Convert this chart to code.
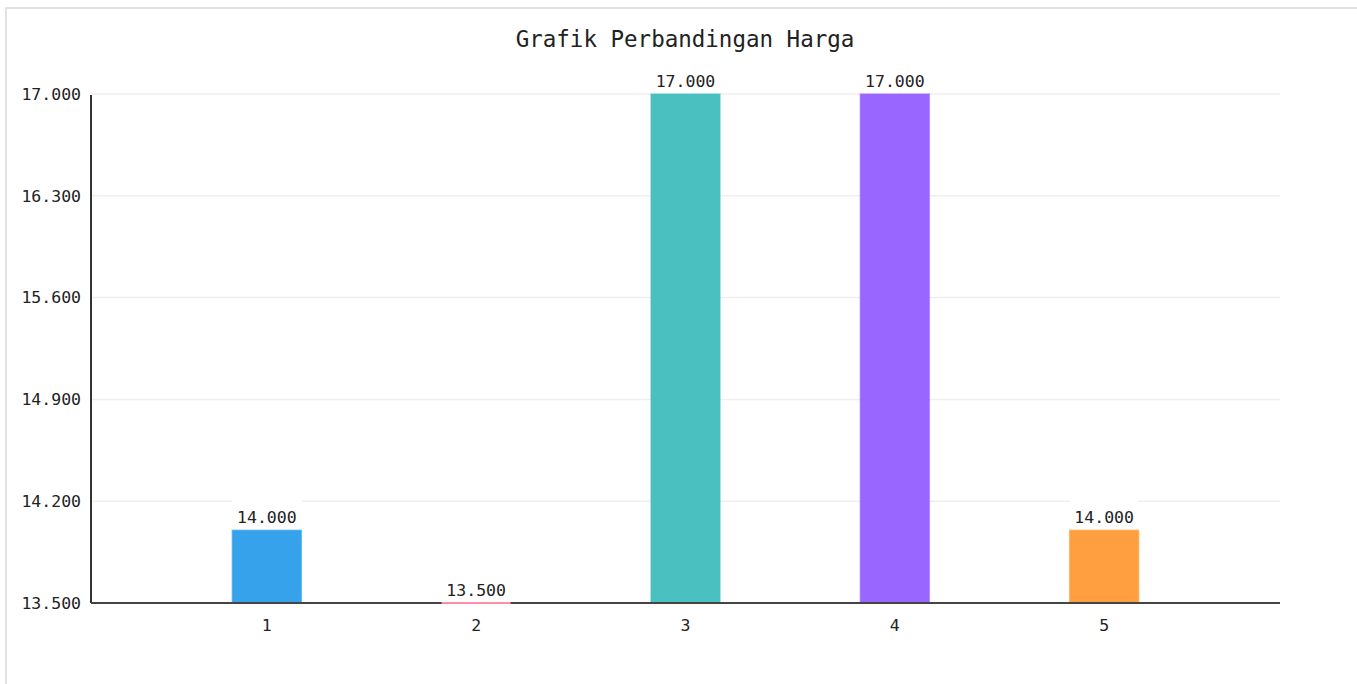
<!DOCTYPE html>
<html>
<head>
<meta charset="utf-8">
<script src="https://cdn.jsdelivr.net/npm/d3@7"></script>
<style>
  body { margin: 0; background: #fff; }
  .frame {
    position: absolute;
    left: 5px;
    top: 7px;
    width: 1400px;
    height: 720px;
    border: 2px solid #e2e2e2;
  }
  svg { position: absolute; left: 0; top: 0; }
  text { font-family: 'DejaVu Sans Mono', 'Liberation Mono', monospace; fill: #222; }
</style>
</head>
<body>
<div class="frame"></div>
<div id="chart"></div>
<script>
// data
var categories = ['1', '2', '3', '4', '5']
var prices = [14000, 13500, 17000, 17000, 14000]
var barColors = ['#36A2EB', '#FF6384', '#4BC0C0', '#9966FF', '#FF9F40']
var yTicks = [13500, 14200, 14900, 15600, 16300, 17000]

var width = 1357
var height = 684
var margin = { top: 94, left: 91, right: 77, bottom: 81 }

var svg = d3
  .select('#chart')
  .append('svg')
  .attr('width', width)
  .attr('height', height)

// Indonesian style numbers: 14.000
var fmt = function(v) {
  return d3.format(',.0f')(v).replace(/,/g, '.')
}

var xPositionScale = d3
  .scalePoint()
  .domain(categories)
  .range([margin.left, width - margin.right])
  .padding(0.84)

var yPositionScale = d3
  .scaleLinear()
  .domain([13500, 17000])
  .range([height - margin.bottom, margin.top])

var barWidth = 69

// title
svg
  .append('text')
  .text('Grafik Perbandingan Harga')
  .attr('x', 685)
  .attr('y', 47)
  .attr('text-anchor', 'middle')
  .attr('font-size', '22.5px')

// gridlines
svg
  .append('g')
  .selectAll('line')
  .data(yTicks)
  .enter()
  .append('line')
  .attr('x1', margin.left)
  .attr('x2', width - margin.right)
  .attr('y1', d => yPositionScale(d))
  .attr('y2', d => yPositionScale(d))
  .attr('stroke', '#efefef')
  .attr('stroke-width', 1.5)

// y tick labels
svg
  .append('g')
  .selectAll('text')
  .data(yTicks)
  .enter()
  .append('text')
  .text(d => fmt(d))
  .attr('x', 81)
  .attr('y', d => yPositionScale(d))
  .attr('dy', '0.35em')
  .attr('text-anchor', 'end')
  .attr('font-size', '16.5px')

var bars = svg
  .append('g')
  .selectAll('g')
  .data(prices)
  .enter()
  .append('g')

// white box behind the value label (it cuts the gridlines)
bars
  .append('rect')
  .attr('x', (d, i) => xPositionScale(categories[i]) - barWidth / 2)
  .attr('y', d => yPositionScale(d) - 32)
  .attr('width', barWidth)
  .attr('height', 32)
  .attr('fill', '#fff')

bars
  .append('rect')
  .attr('x', (d, i) => xPositionScale(categories[i]) - barWidth / 2)
  .attr('y', d => yPositionScale(d))
  .attr('width', barWidth)
  .attr('height', d => yPositionScale(13500) - yPositionScale(d))
  .attr('fill', (d, i) => barColors[i])
  .attr('stroke', (d, i) => barColors[i])
  .attr('stroke-opacity', 0.6)
  .attr('stroke-width', 1.5)

bars
  .append('text')
  .text(d => fmt(d))
  .attr('x', (d, i) => xPositionScale(categories[i]))
  .attr('y', d => yPositionScale(d) - 7)
  .attr('text-anchor', 'middle')
  .attr('font-size', '16.5px')

// axes lines
svg
  .append('line')
  .attr('x1', margin.left)
  .attr('x2', margin.left)
  .attr('y1', margin.top + 1)
  .attr('y2', yPositionScale(13500))
  .attr('stroke', '#333')
  .attr('stroke-width', 2)

svg
  .append('line')
  .attr('x1', margin.left)
  .attr('x2', width - margin.right)
  .attr('y1', yPositionScale(13500))
  .attr('y2', yPositionScale(13500))
  .attr('stroke', '#444')
  .attr('stroke-width', 2)

// flat bars (value on the baseline) show only their border, on top of the axis
svg
  .append('g')
  .selectAll('line')
  .data(prices.map((v, i) => ({ v: v, i: i })).filter(d => d.v === 13500))
  .enter()
  .append('line')
  .attr('x1', d => xPositionScale(categories[d.i]) - barWidth / 2)
  .attr('x2', d => xPositionScale(categories[d.i]) + barWidth / 2)
  .attr('y1', d => yPositionScale(d.v))
  .attr('y2', d => yPositionScale(d.v))
  .attr('stroke', '#FF8FA5')
  .attr('stroke-width', 2)

// x tick labels
svg
  .append('g')
  .selectAll('text')
  .data(categories)
  .enter()
  .append('text')
  .text(d => d)
  .attr('x', d => xPositionScale(d))
  .attr('y', 631)
  .attr('text-anchor', 'middle')
  .attr('font-size', '16.5px')
</script>
</body>
</html>
